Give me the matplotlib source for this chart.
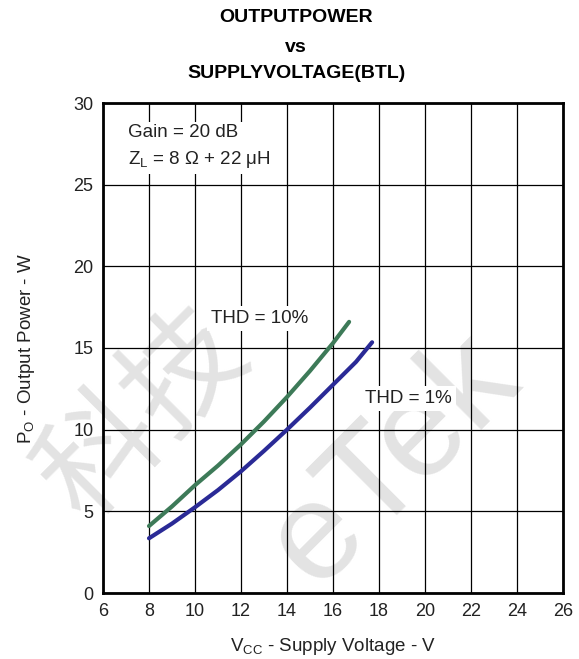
"""
plot.py - output power vs supply voltage (BTL), matplotlib only
"""
import matplotlib
matplotlib.use("Agg")
import matplotlib.pyplot as plt

# data
vcc_thd10 = [8.0, 9.0, 10.0, 11.0, 12.0, 13.0, 14.0, 15.0, 16.0, 16.7]
po_thd10 = [4.1, 5.3, 6.6, 7.8, 9.1, 10.5, 12.0, 13.6, 15.3, 16.6]
vcc_thd1 = [8.0, 9.0, 10.0, 11.0, 12.0, 13.0, 14.0, 15.0, 16.0, 17.0, 17.7]
po_thd1 = [3.35, 4.25, 5.25, 6.3, 7.45, 8.7, 10.0, 11.35, 12.75, 14.15, 15.35]

x_ticks = [6, 8, 10, 12, 14, 16, 18, 20, 22, 24, 26]
y_ticks = [0, 5, 10, 15, 20, 25, 30]
title_lines = ['OUTPUTPOWER', 'vs', 'SUPPLYVOLTAGE(BTL)']

plt.rcParams['font.family'] = ['Liberation Sans', 'DejaVu Sans']
plt.rcParams['mathtext.fontset'] = 'custom'
plt.rcParams['mathtext.rm'] = 'Liberation Sans'

fig = plt.figure(figsize=(5.79, 6.59), dpi=100)
ax = fig.add_axes([103 / 579, 66 / 659, 460 / 579, 490 / 659])
ax.set_facecolor('none')
ax.set_zorder(1)

# faint watermark behind everything
fig.text(0.25, 0.37, "科技", fontsize=86, rotation=45, color='#e3e3e3',
         ha='center', va='center', zorder=0,
         family=['Noto Sans CJK SC', 'DejaVu Sans'])
fig.text(0.68, 0.30, "eTek", fontsize=100, rotation=45, color='#e3e3e3',
         ha='center', va='center', zorder=0)

ax.plot(vcc_thd10, po_thd10, color='#3d7a58', linewidth=3, solid_capstyle='round', zorder=4)
ax.plot(vcc_thd1, po_thd1, color='#2a2a96', linewidth=3, solid_capstyle='round', zorder=4)

ax.set_xlim(6, 26)
ax.set_ylim(0, 30)
ax.set_xticks(x_ticks)
ax.set_yticks(y_ticks)
ax.grid(True, color='black', linewidth=0.9)
ax.set_axisbelow(True)
ax.tick_params(length=0, labelsize=13, labelcolor='#222222', pad=7)
for s in ax.spines.values():
    s.set_linewidth(2)

ax.set_xlabel(r'V$_\mathregular{CC}$ - Supply Voltage - V', fontsize=13.5, color='#222222', labelpad=12)
ax.set_ylabel(r'P$_\mathregular{O}$ - Output Power - W', fontsize=13.5, color='#222222', labelpad=26)

box = dict(facecolor='white', edgecolor='none', pad=3)
ax.text(7.1, 27.3, 'Gain = 20 dB\nZ$_\\mathregular{L}$ = 8 Ω + 22 μH', fontsize=13.5, color='#222222',
        ha='left', va='center', linespacing=1.5, bbox=box, zorder=3)
ax.text(10.7, 16.8, 'THD = 10%', fontsize=13.5, color='#222222', ha='left', va='center', bbox=box, zorder=3)
ax.text(17.4, 11.9, 'THD = 1%', fontsize=13.5, color='#222222', ha='left', va='center', bbox=box, zorder=3)

for line, ypix in zip(title_lines, [18, 47, 73]):
    fig.text(296 / 579, 1 - ypix / 659, line, fontsize=14, fontweight='bold',
             ha='center', va='center')

fig.savefig('out.png', dpi=100)
plt.close(fig)
